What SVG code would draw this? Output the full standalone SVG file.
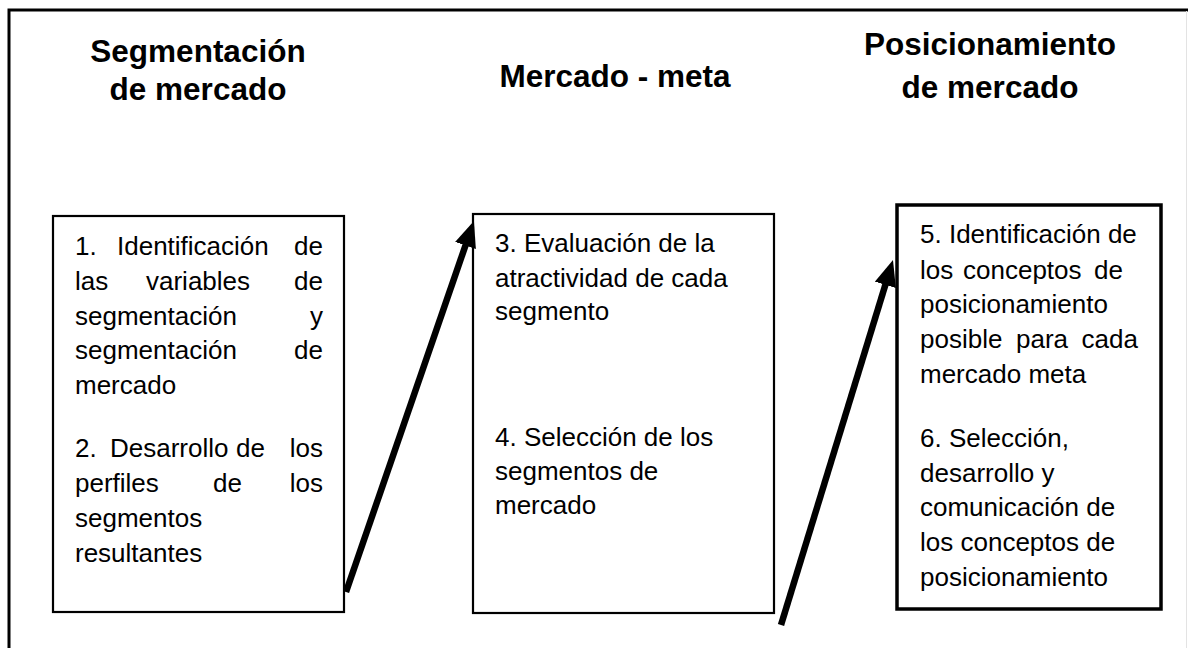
<svg xmlns="http://www.w3.org/2000/svg" width="1188" height="648" viewBox="0 0 1188 648">
<style>
.t{font-family:"Liberation Sans",Arial,sans-serif;fill:#000}
.h{font-size:31.5px;font-weight:bold;text-anchor:middle}
.b{font-size:26px}
.e{text-anchor:end}
.box{fill:#fff;stroke:#000}
.conn{stroke:#000;stroke-width:6.5;fill:none;marker-end:url(#ah)}
</style>
<defs>
<marker id="ah" markerUnits="userSpaceOnUse" markerWidth="28" markerHeight="24" refX="9" refY="11" orient="auto">
<path d="M0,0 L26,11 L0,22 z" fill="#000"/>
</marker>
</defs>
<rect width="1188" height="648" fill="#fff"/>
<g id="frame">
<path d="M9,648 L9,10 L1188,10" fill="none" stroke="#000" stroke-width="3"/>
<line x1="1186.5" y1="11" x2="1186.5" y2="648" stroke="#e3e3e3" stroke-width="1"/>
</g>
<g id="titles" class="t h">
<text x="198" y="62">Segmentación</text>
<text x="198" y="100">de mercado</text>
<text x="615" y="87">Mercado - meta</text>
<text x="990" y="55">Posicionamiento</text>
<text x="990" y="98">de mercado</text>
</g>
<g id="node1">
<rect class="box" x="53" y="216" width="291" height="396" stroke-width="2.2"/>
<g class="t b">
<text x="75" y="255">1.</text><text x="117" y="255">Identificación</text><text class="e" x="323" y="255">de</text>
<text x="75" y="290">las</text><text x="146" y="290">variables</text><text class="e" x="323" y="290">de</text>
<text x="75" y="325">segmentación</text><text class="e" x="323" y="325">y</text>
<text x="75" y="359">segmentación</text><text class="e" x="323" y="359">de</text>
<text x="75" y="394">mercado</text>
<text x="75" y="457">2.</text><text x="110" y="457">Desarrollo</text><text x="236" y="457">de</text><text class="e" x="323" y="457">los</text>
<text x="75" y="492">perfiles</text><text x="213" y="492">de</text><text class="e" x="323" y="492">los</text>
<text x="75" y="527">segmentos</text>
<text x="75" y="562">resultantes</text>
</g>
</g>
<g id="node2">
<rect class="box" x="473" y="214" width="301" height="399" stroke-width="2.2"/>
<g class="t b">
<text x="495" y="252">3. Evaluación de la</text>
<text x="495" y="287">atractividad de cada</text>
<text x="495" y="320">segmento</text>
<text x="495" y="446">4. Selección de los</text>
<text x="495" y="480">segmentos de</text>
<text x="495" y="514">mercado</text>
</g>
</g>
<g id="node3">
<rect class="box" x="897" y="205" width="264" height="404" stroke-width="3.5"/>
<g class="t b">
<text x="920" y="243">5. Identificación de</text>
<text x="920" y="279">los</text><text x="963" y="279">conceptos</text><text class="e" x="1123" y="279">de</text>
<text x="920" y="313">posicionamiento</text>
<text x="920" y="348">posible</text><text x="1016" y="348">para</text><text class="e" x="1138" y="348">cada</text>
<text x="920" y="383">mercado meta</text>
<text x="920" y="447">6. Selección,</text>
<text x="920" y="482">desarrollo y</text>
<text x="920" y="516">comunicación de</text>
<text x="920" y="551">los conceptos de</text>
<text x="920" y="586">posicionamiento</text>
</g>
</g>
<g id="connectors">
<line class="conn" x1="346" y1="592" x2="468.4" y2="237.0"/>
<line class="conn" x1="781" y1="625" x2="888" y2="276.2"/>
</g>
</svg>
